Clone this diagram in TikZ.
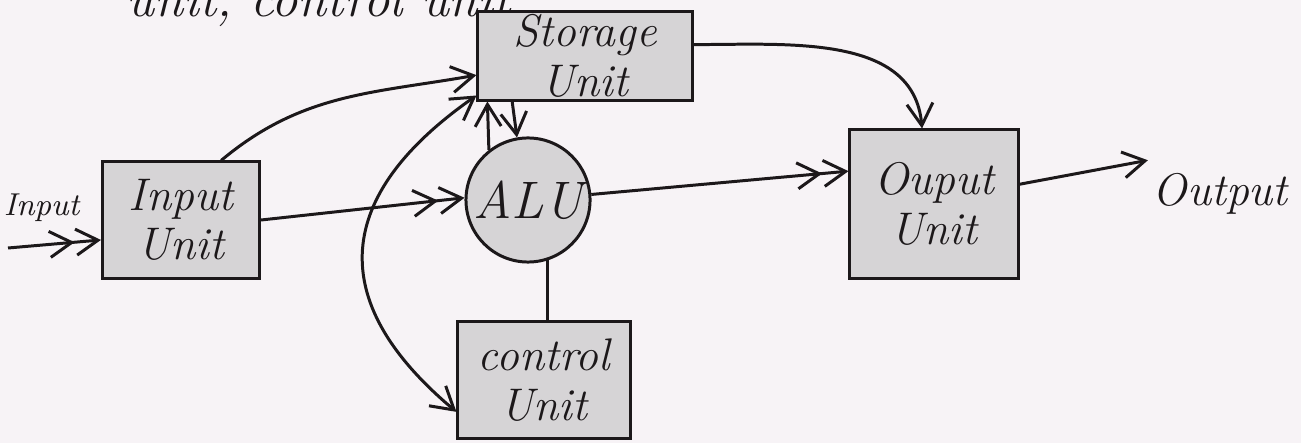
\documentclass[tikz,border=0pt]{standalone}
\usetikzlibrary{positioning,arrows.meta}
\definecolor{paper}{RGB}{247,243,246}
\definecolor{boxgray}{RGB}{214,212,214}
\definecolor{ink}{RGB}{28,24,26}

\begin{document}
\begin{tikzpicture}[
      x=0.01cm, y=0.01cm,
      font=\fontsize{13}{14}\selectfont\itshape,
      line width=0.85pt, ink,
      unitbox/.style={
        draw=ink, fill=boxgray, align=center, inner sep=0pt
      },
      arr/.style={-{Straight Barb[length=2.2mm,width=2.6mm]}},
      arrr/.style={-{Straight Barb[length=2.2mm,width=2.6mm]
                     Straight Barb[length=2.2mm,width=2.6mm]}},
      both/.style={{Straight Barb[length=2.2mm,width=2.6mm]}-{Straight Barb[length=2.2mm,width=2.6mm]}}
    ]
      \useasboundingbox (0,0) rectangle (1301,-443);
      \fill[paper] (0,0) rectangle (1301,-443);

      \node[anchor=base west, inner sep=0pt, font=\fontsize{15}{16}\selectfont\itshape] (topline)
        at (125,-17) {unit, control unit};

      \node[unitbox, minimum width=1.57cm, minimum height=1.16cm] (input)
        at (181,-220) {Input\\Unit};
      \node[unitbox, minimum width=2.14cm, minimum height=0.88cm] (store)
        at (585,-56) {Storage\\Unit};
      \node[unitbox, circle, minimum size=1.24cm, font=\fontsize{15}{17}\selectfont\itshape] (alu)
        at (528,-200) {ALU};
      \node[unitbox, minimum width=1.72cm, minimum height=1.16cm] (ctrl)
        at (544,-380) {control\\Unit};
      \node[unitbox, minimum width=1.68cm, minimum height=1.48cm] (outunit)
        at (934,-204) {Ouput\\Unit};

      \node[left=0.2cm of input, yshift=0.12cm, inner sep=0pt, font=\fontsize{9}{11}\selectfont\itshape] (inlabel)
        {Input};
      \node[right=1.2cm of outunit, yshift=0.1cm] (outlabel) {Output};
      \coordinate (src) at (8,-248);

      \draw[arrr] (src) -- (input.194);
      \draw[arrr] (input.east) -- (alu.178);
      \draw[arr] (input.56) to[out=40, in=190] (store.190);
      \draw[both] (store.200) to[out=215, in=140, looseness=1.4] (ctrl.200);
      \draw[arr] (store.212) -- (alu.100);
      \draw[arr] (alu.128) -- (store.205);
      \draw (alu.288) -- (alu.288 |- ctrl.north);
      \draw[arrr] (alu.5) -- (outunit.159);
      \draw[arr] (store.6) to[out=0, in=95] (outunit.99);
      \draw[arr] (outunit.13) -- (outlabel.155);
    \end{tikzpicture}
\end{document}
